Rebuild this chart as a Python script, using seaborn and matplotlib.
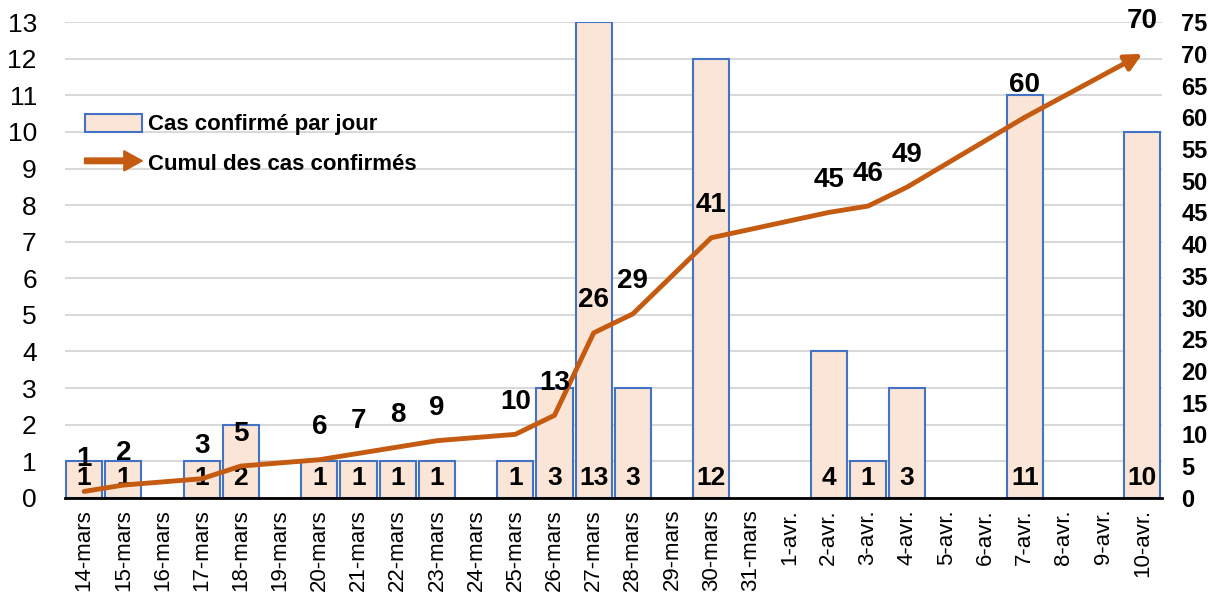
import numpy as np
import pandas as pd
import seaborn as sns
import matplotlib.pyplot as plt
import matplotlib.patches as mpatches
from matplotlib.legend_handler import HandlerPatch

# Daily counts and running total (cumul only shown on days with new cases)
dates = ['14-mars', '15-mars', '16-mars', '17-mars', '18-mars', '19-mars', '20-mars',
         '21-mars', '22-mars', '23-mars', '24-mars', '25-mars', '26-mars', '27-mars',
         '28-mars', '29-mars', '30-mars', '31-mars', '1-avr.', '2-avr.', '3-avr.',
         '4-avr.', '5-avr.', '6-avr.', '7-avr.', '8-avr.', '9-avr.', '10-avr.']
daily = [1, 1, 0, 1, 2, 0, 1, 1, 1, 1, 0, 1, 3, 13, 3, 0, 12, 0, 0, 4, 1, 3, 0, 0, 11, 0, 0, 10]
cumul = [1, 2, None, 3, 5, None, 6, 7, 8, 9, None, 10, 13, 26, 29, None, 41, None, None,
         45, 46, 49, None, None, 60, None, None, 70]

bar_fill = '#FBE5D6'
bar_edge = '#4472C4'
line_col = '#C55A11'

sns.set_style('white')
plt.rcParams['font.family'] = ['Liberation Sans', 'DejaVu Sans']
plt.rcParams['text.color'] = 'black'
plt.rcParams['xtick.color'] = 'black'
plt.rcParams['ytick.color'] = 'black'

df = pd.DataFrame({'date': dates, 'daily': daily, 'cumul': cumul})
df['pos'] = np.arange(len(df))
df_line = df.dropna(subset=['cumul'])

fig = plt.figure(figsize=(12.18, 5.99), dpi=100)
ax = fig.add_axes([0.053, 0.169, 0.901, 0.794])

# bars (zero days drawn as nothing)
bar_vals = df['daily'].where(df['daily'] > 0)
sns.barplot(x=df['pos'], y=bar_vals, ax=ax, color=bar_fill, width=0.92,
            edgecolor=bar_edge, linewidth=1.5, saturation=1)
ax.set_xlim(-0.5, len(dates) - 0.5)
ax.set_ylim(0, 13)
ax.set_yticks(range(0, 14))
ax.yaxis.grid(True, color='#D9D9D9', linewidth=1.5)
ax.set_axisbelow(True)
ax.set_xticks(df['pos'])
ax.set_xticklabels(dates, rotation=90, fontsize=16)
ax.tick_params(axis='y', labelsize=19, length=0, pad=20)
ax.tick_params(axis='x', length=0, pad=8)
ax.set_xlabel('')
ax.set_ylabel('')
for s in ['top', 'left', 'right']:
    ax.spines[s].set_visible(False)
ax.spines['bottom'].set_color('black')
ax.spines['bottom'].set_linewidth(2)
ax.spines['bottom'].set_zorder(5)

# bar labels at the base
for p, v in zip(df['pos'], df['daily']):
    if v > 0:
        ax.text(p, 0.55, str(v), ha='center', va='center', fontsize=19, fontweight='bold')

# cumulative line on right axis
ax2 = ax.twinx()
sns.lineplot(x=df_line['pos'].iloc[:-1], y=df_line['cumul'].iloc[:-1], ax=ax2,
             color=line_col, linewidth=3.5, solid_capstyle='round')
ax2.annotate('', xy=(df_line['pos'].iloc[-1], df_line['cumul'].iloc[-1]),
             xytext=(df_line['pos'].iloc[-2], df_line['cumul'].iloc[-2]),
             arrowprops=dict(arrowstyle='-|>,head_length=1.0,head_width=0.5',
                             color=line_col, lw=3.5, shrinkA=0, shrinkB=0))
ax2.set_ylim(0, 75)
ax2.set_yticks(range(0, 80, 5))
ax2.set_xlim(-0.5, len(dates) - 0.5)
ax2.tick_params(axis='y', labelsize=17, length=0, pad=14)
for lab in ax2.get_yticklabels():
    lab.set_fontweight('bold')
ax2.set_ylabel('')
ax2.set_xlabel('')
for s in ['top', 'left', 'right', 'bottom']:
    ax2.spines[s].set_visible(False)

for p, c in zip(df_line['pos'], df_line['cumul']):
    ax2.annotate(str(int(c)), (p, c), xytext=(0, 14), textcoords='offset points',
                 ha='center', va='bottom', fontsize=20, fontweight='bold')

# legend with arrow handle
def make_arrow(legend, orig_handle, xdescent, ydescent, width, height, fontsize):
    return mpatches.FancyArrow(0, height / 2, width, 0, width=height * 0.3,
                               head_width=height * 1.1, head_length=height * 1.0,
                               length_includes_head=True)

bar_handle = mpatches.Patch(facecolor=bar_fill, edgecolor=bar_edge, linewidth=1.5)
arrow_handle = mpatches.FancyArrow(0, 0, 1, 0, color=line_col)
ax2.legend([bar_handle, arrow_handle],
           ['Cas confirmé par jour', 'Cumul des cas confirmés'],
           handler_map={mpatches.FancyArrow: HandlerPatch(patch_func=make_arrow)},
           loc='upper left', bbox_to_anchor=(0.0, 0.85), frameon=False,
           prop={'size': 16, 'weight': 'bold'}, handlelength=2.6, handleheight=0.9,
           labelspacing=0.8, handletextpad=0.25)

fig.savefig('out.png', dpi=100)
